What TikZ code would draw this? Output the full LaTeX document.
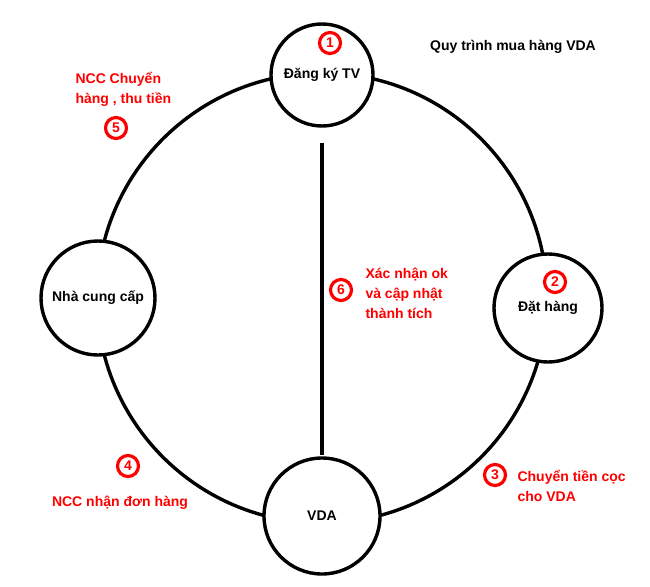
\documentclass[tikz,border=0pt]{standalone}
\usepackage{fontspec}
\setmainfont{Liberation Sans}
\begin{document}
\begin{tikzpicture}[x=1pt,y=-1pt,
    stage/.style={draw, line width=3.4pt, circle, fill=white, font=\fontsize{14}{16}\selectfont\bfseries},
    numtag/.style={draw=red, line width=3.2pt, circle, inner sep=0pt, minimum size=21pt, text=red, font=\fontsize{14}{16}\selectfont\bfseries},
    note/.style={text=red, align=left, font=\fontsize{14}{20}\selectfont\bfseries},
    link/.style={line width=3.4pt}
]
\useasboundingbox (0,0) rectangle (650,586);

% ring
\coordinate (ringc) at (322,298);
\draw[link] (ringc) circle (225);

% stages
\node[stage, minimum size=102pt] (dangky) at (322,75) {Đăng ký TV};
\node[stage, minimum size=108pt] (dathang) at (548,308) {Đặt hàng};
\node[stage, minimum size=116pt] (vda) at (322,516) {VDA};
\node[stage, minimum size=114pt] (ncc) at (98,298) {Nhà cung cấp};

% middle line
\coordinate (midtop) at (322,143);
\coordinate (midbot) at (322,455);
\draw[link] (midtop) -- (midbot);

% numbers
\node[numtag] (n1) at (330,43) {1};
\node[numtag] (n2) at (555,282) {2};
\node[numtag] (n3) at (495,475) {3};
\node[numtag] (n4) at (128,466) {4};
\node[numtag] (n5) at (116,128) {5};
\node[numtag] (n6) at (341,290) {6};

% notes
\node[font=\fontsize{14}{16}\selectfont\bfseries] (title) at (513,47) {Quy trình mua hàng VDA};
\node[note, anchor=west] (t5) at (72,89) {NCC Chuyển\\hàng , thu tiền};
\node[note, anchor=west] (t6) at (362,293) {Xác nhận ok\\và cập nhật\\thành tích};
\node[note, anchor=west] (t3) at (514,486) {Chuyển tiền cọc\\cho VDA};
\node[note] (t4) at (120,503) {NCC nhận đơn hàng};
\end{tikzpicture}
\end{document}
